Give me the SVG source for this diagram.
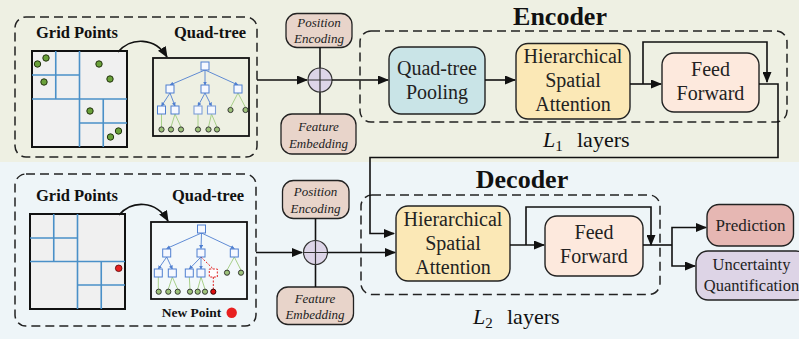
<svg xmlns="http://www.w3.org/2000/svg" width="799" height="339" viewBox="0 0 799 339">
  <defs>
    <marker id="arr" markerUnits="userSpaceOnUse" markerWidth="11" markerHeight="9" refX="10" refY="4.5" orient="auto">
      <path d="M0,0 L11,4.5 L0,9 z" fill="#111"/>
    </marker>
    <marker id="arrBlue" markerUnits="userSpaceOnUse" markerWidth="4" markerHeight="4" refX="3.5" refY="2" orient="auto">
      <path d="M0,0 L4,2 L0,4 z" fill="#4f7fd0"/>
    </marker>
    <style>
      .dash { fill: none; stroke: #222; stroke-width: 1.5; stroke-dasharray: 9 5; }
      .wire { fill: none; stroke: #111; stroke-width: 1.6; }
      .box { stroke: #222; stroke-width: 1.4; }
      .lbl { font-family: "Liberation Serif", "Times New Roman", serif; font-size: 20px; fill: #222; text-anchor: middle; }
      .small { font-family: "Liberation Serif", "Times New Roman", serif; font-size: 13px; font-style: italic; fill: #222; text-anchor: middle; }
      .head { font-family: "Liberation Serif", "Times New Roman", serif; font-size: 16.5px; font-weight: bold; fill: #111; text-anchor: middle; }
      .title { font-family: "Liberation Serif", "Times New Roman", serif; font-size: 26px; font-weight: bold; fill: #111; text-anchor: middle; }
      .layers { font-family: "Liberation Serif", "Times New Roman", serif; font-size: 22px; fill: #111; }
      .grid { fill: #f0f0f0; stroke: #111; stroke-width: 2; }
      .gline { stroke: #4a90c8; stroke-width: 1.6; fill: none; }
      .pt { fill: #6aa13a; stroke: #23330f; stroke-width: 1; }
      .qbox { stroke: #111; stroke-width: 1.8; }
      .tsq { fill: #f5f8ff; stroke: #4f7fd0; stroke-width: 1; }
      .tsq2 { fill: #f5f8ff; stroke: #7e9fd8; stroke-width: 1.1; }
      .tedge { stroke: #4f7fd0; stroke-width: 0.9; fill: none; }
      .gedge { stroke: #a8d08a; stroke-width: 1; fill: none; }
      .leaf { fill: #9dc27a; stroke: #2a2a2a; stroke-width: 0.9; }
      .red { stroke: #e02020; stroke-width: 1; fill: none; stroke-dasharray: 2 1.5; }
      .pill { fill: #e8d4ca; stroke: #222; stroke-width: 1.3; }
      .sum { fill: #ddd5e8; stroke: #333; stroke-width: 1.2; }
    </style>
  </defs>

  <!-- backgrounds of the two halves -->
  <rect x="0" y="0" width="799" height="162" fill="#eef0e3"/>
  <rect x="0" y="162" width="799" height="177" fill="#eef5f8"/>

  <!-- ===== Encoder input panel ===== -->
  <g id="enc-input">
    <rect class="dash" x="15" y="17" width="242" height="140" rx="11"/>
    <text class="head" x="77" y="38">Grid Points</text>
    <text class="head" x="210" y="38">Quad-tree</text>
    <rect class="grid" x="32" y="51" width="95" height="96"/>
    <path class="gline" d="M55.75,51 V99 M79.5,51 V147 M32,75 H79.5 M32,99 H127 M103.25,99 V147 M79.5,123 H127"/>
    <circle class="pt" cx="37.5" cy="64" r="3.2"/>
    <circle class="pt" cx="46" cy="58" r="3.2"/>
    <circle class="pt" cx="44" cy="82" r="3.2"/>
    <circle class="pt" cx="99" cy="64" r="3.2"/>
    <circle class="pt" cx="110" cy="79" r="3.2"/>
    <circle class="pt" cx="90" cy="111" r="3.2"/>
    <circle class="pt" cx="110.5" cy="137" r="3.2"/>
    <circle class="pt" cx="118.5" cy="131" r="3.2"/>
    <path class="wire" d="M118,52 C131,37 155,37 167,57" marker-end="url(#arr)"/>
    <rect class="qbox" x="153" y="58" width="96" height="78" fill="#eef0e3"/>
    <!-- tree edges -->
    <g class="tedge">
      <path d="M205,70 L170,85" marker-end="url(#arrBlue)"/>
      <path d="M205,70 L205,85" marker-end="url(#arrBlue)"/>
      <path d="M205,70 L238,85" marker-end="url(#arrBlue)"/>
      <path d="M170,93 L161.5,106" marker-end="url(#arrBlue)"/>
      <path d="M170,93 L175,106" marker-end="url(#arrBlue)"/>
      <path d="M205,93 L198,106" marker-end="url(#arrBlue)"/>
      <path d="M205,93 L211.5,106" marker-end="url(#arrBlue)"/>
    </g>
    <path class="gedge" d="M238,93 L230.5,107.5 M238,93 L245.5,107.5 M161.5,114 V127 M175,114 L171,127 M175,114 L181,127 M198,114 V127 M211.5,114 L208.5,127 M211.5,114 L217,127"/>
    <rect class="tsq" x="201" y="62" width="8" height="8"/>
    <rect class="tsq" x="166" y="85" width="8" height="8"/>
    <rect class="tsq" x="201" y="85" width="8" height="8"/>
    <rect class="tsq" x="234" y="85" width="8" height="8"/>
    <rect class="tsq" x="157.5" y="106" width="8" height="8"/>
    <rect class="tsq" x="171" y="106" width="8" height="8"/>
    <rect class="tsq2" x="194" y="106" width="8" height="8"/>
    <rect class="tsq2" x="207.5" y="106" width="8" height="8"/>
    <circle class="leaf" cx="230.5" cy="110" r="2.6"/>
    <circle class="leaf" cx="245.5" cy="110" r="2.6"/>
    <circle class="leaf" cx="161.5" cy="129.5" r="2.6"/>
    <circle class="leaf" cx="171" cy="129.5" r="2.6"/>
    <circle class="leaf" cx="181" cy="129.5" r="2.6"/>
    <circle class="leaf" cx="198" cy="129.5" r="2.6"/>
    <circle class="leaf" cx="208.5" cy="129.5" r="2.6"/>
    <circle class="leaf" cx="217" cy="129.5" r="2.6"/>
  </g>

  <!-- ===== Decoder input panel ===== -->
  <g id="dec-input">
    <rect class="dash" x="15" y="174" width="241" height="152" rx="11"/>
    <text class="head" x="77" y="201">Grid Points</text>
    <text class="head" x="208" y="201">Quad-tree</text>
    <rect class="grid" x="30" y="214" width="95" height="95"/>
    <path class="gline" d="M53.75,214 V261.5 M77.5,214 V309 M30,238 H77.5 M30,261.5 H125 M101.25,261.5 V309 M77.5,285 H125"/>
    <circle cx="118.7" cy="268.3" r="3.3" fill="#e82020" stroke="#500" stroke-width="0.8"/>
    <path class="wire" d="M119,215 C132,200 156,200 168,221" marker-end="url(#arr)"/>
    <rect class="qbox" x="151" y="222" width="96" height="77" fill="#f3f8fa"/>
    <g class="tedge">
      <path d="M201.5,233 L166.7,248.5" marker-end="url(#arrBlue)"/>
      <path d="M201.5,233 L201,248.5" marker-end="url(#arrBlue)"/>
      <path d="M201.5,233 L234.3,248.5" marker-end="url(#arrBlue)"/>
      <path d="M166.7,257 L158.3,269" marker-end="url(#arrBlue)"/>
      <path d="M166.7,257 L172.3,269" marker-end="url(#arrBlue)"/>
      <path d="M201,257 L189.3,269" marker-end="url(#arrBlue)"/>
      <path d="M201,257 L201,269" marker-end="url(#arrBlue)"/>
    </g>
    <path class="red" d="M201,257 L213.3,269 M213.3,277 V289"/>
    <path class="gedge" d="M234.3,257 L227,270.2 M234.3,257 L241,270.2 M158.3,277 V289.2 M172.3,277 L168.3,289.2 M172.3,277 L177.7,289.2 M189.3,277 L190,289.2 M201,277 L197.7,289.2 M201,277 L205,289.2"/>
    <rect class="tsq" x="197.5" y="225" width="8" height="8"/>
    <rect class="tsq" x="162.7" y="249" width="8" height="8"/>
    <rect class="tsq" x="197" y="249" width="8" height="8"/>
    <rect class="tsq" x="230.3" y="249" width="8" height="8"/>
    <rect class="tsq" x="154.3" y="269" width="8" height="8"/>
    <rect class="tsq" x="168.3" y="269" width="8" height="8"/>
    <rect class="tsq" x="185.3" y="269" width="8" height="8"/>
    <rect class="tsq" x="197" y="269" width="8" height="8"/>
    <rect x="209.3" y="269" width="8" height="8" fill="#fff" stroke="#e02020" stroke-width="1" stroke-dasharray="2 1.5"/>
    <circle class="leaf" cx="227" cy="272.7" r="2.6"/>
    <circle class="leaf" cx="241" cy="272.7" r="2.6"/>
    <circle class="leaf" cx="158.7" cy="291.7" r="2.6"/>
    <circle class="leaf" cx="168.3" cy="291.7" r="2.6"/>
    <circle class="leaf" cx="177.7" cy="291.7" r="2.6"/>
    <circle class="leaf" cx="190" cy="291.7" r="2.6"/>
    <circle class="leaf" cx="197.7" cy="291.7" r="2.6"/>
    <circle class="leaf" cx="205" cy="291.7" r="2.6"/>
    <circle cx="213.3" cy="291.7" r="2.6" fill="#e01010" stroke="#200" stroke-width="0.9"/>
    <text class="head" x="191.5" y="317" style="font-size:13.5px">New Point</text>
    <circle cx="231.7" cy="312.7" r="5.2" fill="#e82020"/>
  </g>

  <!-- ===== Encoder embeddings ===== -->
  <g id="enc-pos-enc">
    <rect class="pill" x="286" y="13.5" width="66" height="34" rx="11"/>
    <text class="small" x="319" y="26.5">Position</text>
    <text class="small" x="319" y="42.5">Encoding</text>
  </g>
  <g id="enc-feat-emb">
    <rect class="pill" x="281" y="114" width="75" height="40" rx="11"/>
    <text class="small" x="318.5" y="130.5">Feature</text>
    <text class="small" x="318.5" y="147.5">Embedding</text>
  </g>

  <!-- ===== Decoder embeddings ===== -->
  <g id="dec-pos-enc">
    <rect class="pill" x="282.5" y="180.5" width="66.5" height="38" rx="11"/>
    <text class="small" x="315.5" y="196">Position</text>
    <text class="small" x="315.5" y="213">Encoding</text>
  </g>
  <g id="dec-feat-emb">
    <rect class="pill" x="277" y="287" width="76.5" height="37.5" rx="11"/>
    <text class="small" x="315" y="302.5">Feature</text>
    <text class="small" x="315" y="319">Embedding</text>
  </g>

  <!-- ===== Encoder block ===== -->
  <text class="title" x="560" y="25">Encoder</text>
  <rect class="dash" x="360" y="31" width="427" height="91" rx="11"/>
  <g id="enc-pooling">
    <rect class="box" x="389" y="47" width="96" height="67" rx="12" fill="#c9e4e7"/>
    <text class="lbl" x="437" y="75">Quad-tree</text>
    <text class="lbl" x="437" y="99">Pooling</text>
  </g>
  <g id="enc-attention">
    <rect class="box" x="516" y="43.5" width="114" height="75.5" rx="12" fill="#fbe8b6"/>
    <text class="lbl" x="573" y="63">Hierarchical</text>
    <text class="lbl" x="573" y="87">Spatial</text>
    <text class="lbl" x="573" y="111">Attention</text>
  </g>
  <g id="enc-ffn">
    <rect class="box" x="662" y="53" width="97" height="59" rx="12" fill="#fde9dd"/>
    <text class="lbl" x="710.5" y="75.5">Feed</text>
    <text class="lbl" x="710.5" y="100">Forward</text>
  </g>
  <text class="layers" x="543" y="147"><tspan font-style="italic">L</tspan><tspan font-size="15" dy="4">1</tspan><tspan dy="-4" x="577">layers</tspan></text>

  <!-- ===== Decoder block ===== -->
  <text class="title" x="522" y="188">Decoder</text>
  <rect class="dash" x="361" y="195" width="299" height="99.5" rx="11"/>
  <g id="dec-attention">
    <rect class="box" x="396" y="206" width="114" height="75" rx="12" fill="#fbe8b6"/>
    <text class="lbl" x="453" y="225.5">Hierarchical</text>
    <text class="lbl" x="453" y="249.5">Spatial</text>
    <text class="lbl" x="453" y="273.5">Attention</text>
  </g>
  <g id="dec-ffn">
    <rect class="box" x="545" y="216" width="98" height="60" rx="12" fill="#fde9dd"/>
    <text class="lbl" x="594" y="238.5">Feed</text>
    <text class="lbl" x="594" y="263">Forward</text>
  </g>
  <text class="layers" x="473" y="324"><tspan font-style="italic">L</tspan><tspan font-size="15" dy="4">2</tspan><tspan dy="-4" x="507">layers</tspan></text>

  <!-- ===== Outputs ===== -->
  <g id="prediction">
    <rect class="box" x="707" y="204.5" width="86.5" height="41.5" rx="12" fill="#e6b7b3"/>
    <text class="lbl" x="750.5" y="231" style="font-size:17px">Prediction</text>
  </g>
  <g id="uncertainty">
    <rect class="box" x="696" y="251" width="112" height="49" rx="12" fill="#ddd4e6"/>
    <text class="lbl" x="751.5" y="270" style="font-size:16.5px">Uncertainty</text>
    <text class="lbl" x="751.5" y="291" style="font-size:16.5px">Quantification</text>
  </g>

  <!-- ===== connectors ===== -->
  <g id="connectors">
    <!-- encoder side -->
    <path class="wire" d="M257,80 H307" marker-end="url(#arr)"/>
    <path class="wire" d="M320,47.5 V114"/>
    <circle class="sum" cx="320" cy="80" r="12"/>
    <path d="M320,68 V92 M308,80 H332" stroke="#333" stroke-width="1.2"/>
    <path class="wire" d="M332,80 H388" marker-end="url(#arr)"/>
    <path class="wire" d="M485,80 H515" marker-end="url(#arr)"/>
    <path class="wire" d="M630,84 H661" marker-end="url(#arr)"/>
    <path class="wire" d="M643,84 V42 H767 V82" marker-end="url(#arr)"/>
    <path class="wire" d="M759,84 H778 V157.5 H370 V233.5 H394" marker-end="url(#arr)"/>
    <!-- decoder side -->
    <path class="wire" d="M256,252.5 H302" marker-end="url(#arr)"/>
    <path class="wire" d="M315.5,218.5 V287"/>
    <circle class="sum" cx="315.5" cy="252.5" r="12"/>
    <path d="M315.5,240.5 V264.5 M303.5,252.5 H327.5" stroke="#333" stroke-width="1.2"/>
    <path class="wire" d="M327.5,252.5 H395" marker-end="url(#arr)"/>
    <path class="wire" d="M510,245 H544" marker-end="url(#arr)"/>
    <path class="wire" d="M526,245 V207 H651 V245" marker-end="url(#arr)"/>
    <path class="wire" d="M643,245 H672"/>
    <path class="wire" d="M672,245 V227.5 H706" marker-end="url(#arr)"/>
    <path class="wire" d="M672,245 V266 H695" marker-end="url(#arr)"/>
  </g>
</svg>
